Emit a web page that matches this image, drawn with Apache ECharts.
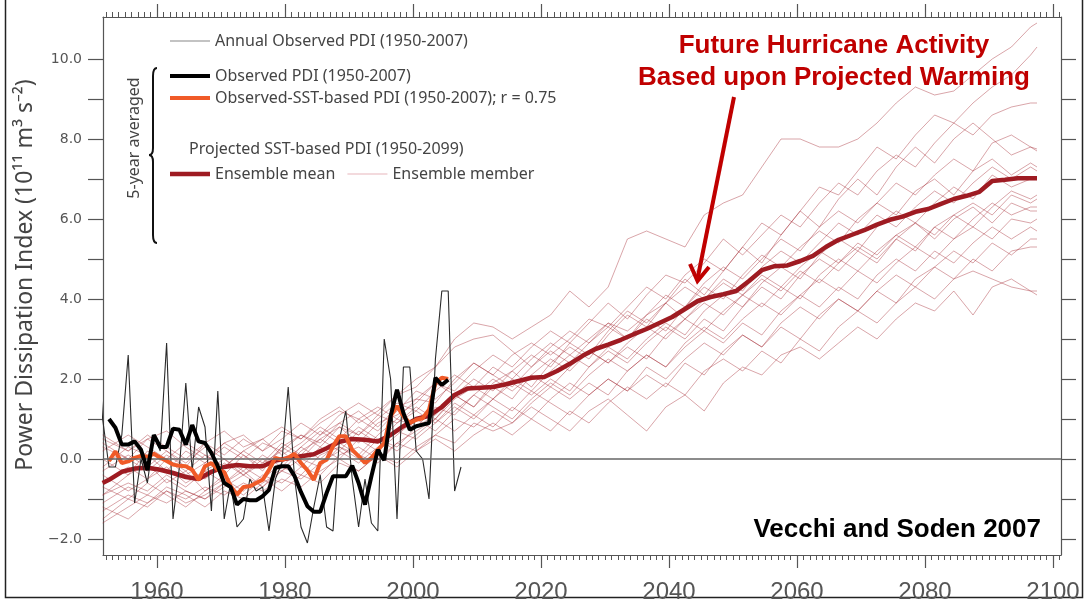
<!DOCTYPE html>
<html>
<head>
<meta charset="utf-8">
<script src="https://cdn.jsdelivr.net/npm/echarts@6/dist/echarts.min.js"></script>
<style>
html, body { margin: 0; padding: 0; background: #fff; }
#chart { width: 1085px; height: 599px; }
</style>
</head>
<body>
<div id="chart"></div>
<script>
// ---- Observed hurricane Power Dissipation Index (10^11 m^3 s^-2) ----
const annualStart = 1950;   // annual observed PDI, 1950-2007
const annualPDI = [
  3.5, 1.0, -0.2, -0.2, 0.6, 2.6, -1.1, 0.0, -0.6, 0.6,
  0.2, 2.9, -1.5, -0.2, 1.9, -0.3, 1.3, 0.8, -1.3, 1.7,
  -1.5, -0.6, -1.7, -1.5, -0.5, -0.8, -0.7, -1.8, -0.5, -0.1,
  1.8, -0.5, -1.7, -2.1, -1.2, -0.4, -1.7, -1.8, 0.5, 1.2,
  -0.5, -1.7, -0.5, -1.6, -1.8, 3.0, 2.0, -1.5, 2.3, 2.3,
  0.2, 0.0, -1.0, 2.5, 4.2, 4.2, -0.8, -0.2
];

const smoothStart = 1952;   // 5-year running means centred 1952-2005
const observedPDI5yr = [
  1.0, 0.78, 0.36, 0.36, 0.44, 0.23, -0.28, 0.6, 0.3, 0.3,
  0.76, 0.73, 0.36, 0.85, 0.44, 0.4, 0.15, -0.18, -0.6, -0.7,
  -1.14, -1.0, -1.03, -1.03, -0.93, -0.77, -0.22, -0.18, -0.18, -0.43,
  -0.83, -1.18, -1.32, -1.32, -0.85, -0.43, -0.43, -0.43, -0.17, -0.6,
  -1.14, -0.43, 0.23, -0.03, 1.07, 1.73, 1.15, 0.73, 0.82, 0.86,
  0.9, 2.03, 1.85, 1.98
];
const sstBasedPDI5yr = [
  -0.05, 0.19, -0.1, -0.06, 0.03, 0.08, 0.05, 0.13, 0.03, -0.05,
  -0.14, -0.17, -0.18, -0.27, -0.52, -0.18, -0.1, -0.27, -0.33, -0.68,
  -0.89, -0.7, -0.68, -0.6, -0.52, -0.27, 0.03, -0.02, 0.03, 0.13,
  -0.1, -0.28, -0.52, -0.1, -0.02, 0.32, 0.57, 0.57, 0.23, 0.07,
  -0.1, 0.03, 0.23, 0.4, 1.07, 1.32, 1.07, 0.9, 0.98, 1.02,
  1.23, 1.9, 2.03, 2.0
];

// ---- Projected SST-based PDI (5-year means) ----
const meanYears = [
  1951, 1952, 1954, 1956, 1958, 1960, 1962, 1964, 1966, 1968, 1970,
  1972, 1974, 1976, 1978, 1980, 1982, 1984, 1986, 1988, 1990,
  1992, 1994, 1996, 1998, 2000, 2002, 2004, 2006, 2008, 2010,
  2012, 2014, 2016, 2018, 2020, 2022, 2024, 2026, 2028, 2030,
  2032, 2034, 2036, 2038, 2040, 2042, 2044, 2046, 2048, 2050,
  2052, 2054, 2056, 2058, 2060, 2062, 2064, 2066, 2068, 2070,
  2072, 2074, 2076, 2078, 2080, 2082, 2084, 2086, 2088, 2090,
  2092, 2094, 2096, 2097
];
const ensembleMean = [
  -0.6, -0.52, -0.32, -0.24, -0.22, -0.27, -0.35, -0.45, -0.5, -0.32, -0.2,
  -0.15, -0.18, -0.18, -0.04, 0.02, 0.07, 0.12, 0.27, 0.43, 0.5,
  0.48, 0.44, 0.6, 0.82, 1.0, 1.08, 1.3, 1.6, 1.76, 1.78,
  1.8, 1.87, 1.95, 2.03, 2.05, 2.2, 2.38, 2.58, 2.75, 2.86,
  2.98, 3.12, 3.25, 3.4, 3.55, 3.75, 3.95, 4.05, 4.12, 4.2,
  4.45, 4.72, 4.82, 4.84, 4.95, 5.08, 5.3, 5.48, 5.6, 5.72,
  5.86, 5.98, 6.06, 6.18, 6.25, 6.38, 6.5, 6.58, 6.68, 6.95,
  6.98, 7.02, 7.02, 7.02
];

const memberYears = [
  1951, 1955, 1958, 1961, 1964, 1967, 1970, 1973, 1976, 1979,
  1982, 1985, 1988, 1991, 1994, 1997, 2000, 2003, 2006, 2009,
  2012, 2015, 2018, 2021, 2024, 2027, 2030, 2033, 2036, 2039,
  2042, 2045, 2048, 2051, 2054, 2057, 2060, 2063, 2066, 2069,
  2072, 2075, 2078, 2081, 2084, 2087, 2090, 2093, 2096, 2097
];
const ensembleMembers = [
  [0.3,0.0,0.5,0.2,-0.2,0.4,0.1,0.5,0.2,0.7, 0.5,1.0,1.3,0.9,1.2,1.6,1.8,2.3,3.0,3.4, 3.3,3.0,3.3,3.6,4.2,3.8,4.3,5.5,5.7,5.5, 5.3,6.1,6.4,6.6,7.3,8.0,8.0,7.8,7.8,8.0, 8.4,8.9,9.3,9.1,9.2,9.6,10.0,10.3,10.8,10.9],
  [-0.6,-0.2,-0.5,0.0,-0.4,-0.1,0.3,0.0,0.4,0.2, 0.6,0.4,0.9,1.2,0.8,1.3,1.5,1.4,2.0,2.4, 2.1,2.6,2.9,2.6,3.0,3.5,3.3,3.8,4.3,4.0, 4.6,5.0,4.7,5.3,5.9,5.6,6.2,6.8,6.6,7.2, 7.8,7.5,8.1,8.6,8.4,8.9,9.3,9.6,10.1,10.3],
  [-0.9,-0.4,-0.1,-0.6,-0.3,-0.8,-0.4,0.1,-0.3,0.3, 0.0,0.5,0.8,0.4,0.9,1.1,1.4,1.9,1.7,2.2, 2.6,2.3,2.8,3.2,2.9,3.4,3.9,3.5,4.1,4.6, 4.4,4.9,5.5,5.1,5.6,6.1,5.8,6.4,6.9,6.6, 7.2,7.6,7.3,7.9,8.4,8.1,8.6,8.8,8.9,8.9],
  [-0.2,0.3,0.1,-0.3,0.2,-0.1,0.4,0.1,-0.2,0.3, 0.6,0.3,0.8,0.6,1.0,1.4,1.2,1.7,2.1,1.8, 2.3,2.0,2.5,2.9,2.6,3.0,3.4,3.2,3.6,4.1, 3.8,4.4,4.8,4.5,5.0,5.5,5.2,5.8,6.2,5.9, 6.4,6.9,6.6,7.1,7.5,7.2,7.9,8.1,7.8,7.75],
  [-1.1,-0.7,-0.9,-0.5,-0.8,-1.0,-0.6,-0.3,-0.7,-0.2, -0.4,0.1,0.3,0.0,0.5,0.3,0.8,1.1,1.6,1.3, 1.9,2.2,1.8,2.4,2.8,2.5,3.1,3.6,3.3,3.9, 4.5,4.1,4.7,5.3,4.9,5.6,6.2,5.8,6.5,7.0, 6.6,7.3,7.8,7.4,8.0,8.4,8.0,7.6,7.8,7.7],
  [0.5,0.2,0.6,0.3,0.0,0.4,0.7,0.3,0.5,0.8, 0.5,0.9,1.2,1.0,0.7,1.2,1.7,1.5,1.9,2.4, 2.1,1.8,2.3,2.7,2.4,2.9,3.3,3.0,3.5,3.2, 3.8,4.3,4.0,4.6,5.1,4.8,5.3,5.7,5.4,6.0, 6.4,6.1,6.7,7.0,6.6,7.2,7.5,7.1,7.4,7.3],
  [-0.7,-1.0,-0.6,-0.9,-1.2,-0.8,-0.5,-0.8,-0.4,-0.6, -0.2,-0.4,0.1,0.3,0.0,0.4,0.7,1.0,1.5,1.8, 1.5,2.0,1.7,2.2,2.6,2.3,2.8,2.5,3.0,3.4, 3.1,3.7,4.1,3.8,4.4,4.8,4.5,5.1,5.5,5.2, 5.8,6.2,5.9,6.4,6.8,6.5,7.1,6.8,7.0,7.0],
  [0.0,-0.4,0.2,0.0,-0.3,0.1,-0.2,0.2,-0.1,0.4, 0.1,0.6,0.9,0.6,1.1,0.9,1.3,1.0,1.6,2.0, 1.7,2.2,2.6,2.3,2.9,2.6,3.2,3.7,3.4,3.9, 4.3,4.0,4.5,4.2,4.8,5.2,4.9,5.4,5.9,5.6, 6.1,5.8,6.3,6.7,6.4,6.9,7.3,7.0,7.3,7.2],
  [-1.3,-0.9,-1.1,-0.7,-0.9,-1.2,-0.8,-1.0,-0.6,-0.3, -0.5,-0.1,0.2,-0.1,0.3,0.7,0.5,0.9,1.3,1.0, 1.5,1.9,1.6,2.0,1.7,2.3,2.7,2.4,2.9,3.3, 3.0,3.5,3.2,3.8,4.3,4.0,4.6,5.0,4.7,5.2, 4.9,5.5,5.9,5.6,6.1,6.4,6.1,6.6,6.4,6.5],
  [0.2,0.6,0.3,0.0,0.4,0.1,-0.2,0.2,0.5,0.1, 0.4,0.8,0.5,1.0,1.3,1.0,1.5,1.9,1.6,1.3, 1.8,1.5,2.1,1.8,2.3,2.7,2.4,2.8,2.5,3.1, 3.5,3.2,3.7,4.1,3.8,4.3,4.0,4.6,5.0,4.7, 5.2,5.6,5.3,5.8,5.5,6.0,6.4,6.1,6.3,6.3],
  [-0.4,-0.8,-0.5,-0.2,-0.6,-0.3,0.0,-0.4,-0.1,0.2, -0.2,0.3,0.0,0.5,0.2,0.6,1.0,0.7,1.2,1.6, 1.3,1.0,1.5,1.9,1.6,2.1,2.5,2.2,2.6,2.3, 2.9,3.3,3.0,3.5,3.9,3.6,4.1,4.5,4.2,4.7, 4.4,4.9,5.3,5.0,5.5,5.8,5.5,6.0,5.9,6.0],
  [-1.6,-1.2,-0.9,-1.1,-0.8,-1.0,-0.7,-0.4,-0.7,-0.3, 0.0,-0.2,0.3,0.1,-0.1,0.4,0.2,0.6,1.0,0.8, 1.2,0.9,1.4,1.8,1.5,1.9,1.6,2.2,2.6,2.3, 2.8,3.2,2.9,3.4,3.1,3.7,4.1,3.8,4.3,4.0, 4.6,5.0,4.7,5.2,4.9,5.4,5.8,5.5,5.8,5.7],
  [0.4,0.0,-0.3,0.1,-0.2,-0.5,-0.1,-0.4,0.0,-0.3, 0.2,0.5,0.2,0.7,0.4,0.9,1.2,0.9,1.4,1.1, 0.8,1.3,1.0,1.5,1.9,1.6,2.0,1.7,2.3,2.0, 2.5,2.9,2.6,3.1,2.8,3.4,3.8,3.5,4.0,3.7, 4.2,4.6,4.3,4.8,5.2,4.9,5.4,5.1,5.5,5.5],
  [-0.9,-0.6,-0.8,-0.4,-0.7,-0.3,-0.6,-0.2,-0.5,-0.1, 0.3,0.0,0.4,0.8,0.5,0.2,0.6,1.0,0.7,1.1, 1.5,1.2,1.7,1.4,1.1,1.6,2.0,1.7,2.1,1.8, 2.4,2.1,2.7,3.1,2.8,3.3,3.0,3.6,4.0,3.7, 4.2,3.9,4.5,4.8,4.5,5.0,4.7,5.2,5.3,5.3],
  [-1.2,-1.5,-1.1,-0.8,-1.0,-0.7,-0.9,-0.6,-0.8,-0.5, -0.7,-0.3,0.0,-0.3,0.1,-0.2,0.2,0.5,0.2,0.6, 0.9,0.6,1.0,0.7,1.2,0.9,1.4,1.8,1.5,1.9, 1.6,2.2,2.5,2.2,2.7,2.4,3.0,2.7,3.3,3.7, 3.4,3.9,4.3,4.0,4.5,4.7,4.5,4.3,4.2,4.2],
  [-1.5,-1.0,-1.2,-0.8,-1.1,-0.9,-0.6,-0.9,-0.5,-0.8, -0.4,-0.6,-0.1,-0.3,0.1,-0.1,0.3,0.6,0.4,0.9, 0.7,0.9,1.3,1.0,0.7,1.2,1.5,1.1,0.7,1.3, 1.6,1.2,1.9,2.3,2.1,2.6,2.8,2.5,2.9,3.3, 3.0,3.5,3.9,3.7,4.2,3.6,4.3,4.5,4.2,4.1],
  [-0.3,0.1,-0.2,0.2,-0.1,0.3,0.0,-0.3,0.1,-0.2, 0.3,0.7,0.4,0.1,0.6,1.0,0.8,1.3,1.1,1.6, 2.0,1.7,2.1,2.5,2.2,2.7,2.4,2.9,3.3,3.0, 3.5,3.9,3.6,4.1,4.5,4.2,4.7,4.4,4.9,5.3, 5.0,5.5,5.2,5.8,6.1,5.8,6.3,6.7,6.5,6.6],
  [0.6,0.2,0.5,0.7,0.3,0.0,0.4,0.6,0.2,0.5, 0.9,0.6,1.1,1.4,1.1,1.6,2.0,2.3,2.8,3.0, 3.1,2.7,2.3,2.8,3.2,2.9,3.4,3.0,3.6,3.9, 3.5,4.0,4.4,4.1,4.6,4.3,4.8,5.2,4.9,5.4, 5.1,5.6,5.9,5.5,6.0,6.3,5.9,6.4,6.2,6.2]
];

// ---- Axes ----
const X_MIN = 1951.56, X_MAX = 2101.25;
const Y_MIN = -2.4, Y_MAX = 11.05;
const yearTicks = [];            // one minor tick per year
for (let y = 1952; y <= 2101; y++) yearTicks.push(y);
const decadeTicks = [1960, 1980, 2000, 2020, 2040, 2060, 2080, 2100];
const yTicks = [-2, -1, 0, 1, 2, 3, 4, 5, 6, 7, 8, 9, 10];
const yLabels = [-2, 0, 2, 4, 6, 8, 10];

const MID_YEAR = 0.5;   // annual values sit at mid-year
const toPoints = (startYear, values) => values.map((v, i) => [startYear + i + MID_YEAR, v]);
const toPairs = (years, values) => values.map((v, i) => [years[i] + MID_YEAR, v]);

const UI_FONT = '"Noto Sans", "Open Sans", sans-serif';
const AXIS_COLOR = '#555';
const RED = '#C00000';
const MEMBER_COLOR = 'rgba(160, 32, 42, 0.45)';

// legend swatches: flat bars of a given thickness
const bar = h => 'path://M0,0H40V' + h + 'H0Z';

const chart = echarts.init(document.getElementById('chart'), null, { renderer: 'canvas' });

const xBase = {
  type: 'value', min: X_MIN, max: X_MAX, gridIndex: 0,
  splitLine: { show: false }
};
const minorX = (position) => Object.assign({}, xBase, {
  position,
  axisLine: { show: true, onZero: false, lineStyle: { color: AXIS_COLOR, width: 1.2 } },
  axisTick: { show: true, customValues: yearTicks, length: 5, lineStyle: { color: AXIS_COLOR, width: 1 } },
  axisLabel: { show: false }
});
const majorX = (position, labels) => Object.assign({}, xBase, {
  position,
  axisLine: { show: false, onZero: false },
  axisTick: { show: true, customValues: decadeTicks, length: 13, lineStyle: { color: AXIS_COLOR, width: 1.2 } },
  axisLabel: labels ? {
    show: true, customValues: decadeTicks, margin: 25,
    fontSize: 24, color: '#555', fontFamily: '"Liberation Sans", Arial, sans-serif',
    formatter: v => String(v)
  } : { show: false }
});
const yAxisOf = (position, withLabels) => ({
  type: 'value', position, min: Y_MIN, max: Y_MAX,
  splitLine: { show: false },
  axisLine: { show: true, onZero: false, lineStyle: { color: AXIS_COLOR, width: 1.2 } },
  axisTick: { show: true, customValues: yTicks, length: 15, lineStyle: { color: AXIS_COLOR, width: 1.2 } },
  axisLabel: withLabels ? {
    show: true, customValues: yLabels, margin: 21,
    fontSize: 14, color: '#555', fontFamily: '"DejaVu Sans", sans-serif',
    formatter: v => (v < 0 ? '\u2212' : '') + Math.abs(v).toFixed(1)
  } : { show: false },
  name: withLabels ? 'Power Dissipation Index (10\u00b9\u00b9 m\u00b3 s\u207b\u00b2)' : '',
  nameLocation: 'middle', nameGap: 60,
  nameTextStyle: { fontSize: 23, color: '#444', fontFamily: UI_FONT, padding: [0, 0, 0, 22] }
});

const memberSeries = ensembleMembers.map((run, i) => {
  const s = {
    name: 'Ensemble member', type: 'line', z: 1,
    xAxisIndex: 0, yAxisIndex: 0,
    data: toPairs(memberYears, run),
    symbol: 'none', clip: true, silent: true,
    lineStyle: { color: MEMBER_COLOR, width: 0.9 },
    itemStyle: { color: MEMBER_COLOR }
  };
  if (i === 0) {
    s.markLine = {
      silent: true, symbol: 'none', label: { show: false },
      lineStyle: { color: '#666', width: 1.5, type: 'solid' },
      data: [{ yAxis: 0 }]
    };
  }
  return s;
});

const legendText = { fontSize: 16, color: '#444', fontFamily: UI_FONT };

chart.setOption({
  animation: false,
  backgroundColor: '#fff',
  grid: { left: 103, right: 24, top: 17, bottom: 44, containLabel: false, outerBoundsMode: 'none' },
  xAxis: [minorX('bottom'), majorX('bottom', true), minorX('top'), majorX('top', false)],
  yAxis: [yAxisOf('left', true), yAxisOf('right', false)],
  legend: [
    { left: 165, top: 28, itemWidth: 40, itemHeight: 14, itemGap: 6, textStyle: legendText,
      data: [{ name: 'Annual Observed PDI (1950-2007)', icon: bar(1.2), itemStyle: { color: '#888' } }] },
    { left: 165, top: 63, orient: 'vertical', itemGap: 6, itemWidth: 40, itemHeight: 14, textStyle: legendText,
      data: [
        { name: 'Observed PDI (1950-2007)', icon: bar(4) },
        { name: 'Observed-SST-based PDI (1950-2007); r = 0.75', icon: bar(4) }
      ] },
    { left: 165, top: 161, itemGap: 12, itemWidth: 40, itemHeight: 14, textStyle: legendText,
      data: [
        { name: 'Ensemble mean', icon: bar(4.5) },
        { name: 'Ensemble member', icon: bar(1.2), itemStyle: { color: 'rgba(210, 110, 120, 0.5)' } }
      ] }
  ],
  series: memberSeries.concat([
    {
      name: 'Ensemble mean', type: 'line', z: 2,
      data: toPairs(meanYears, ensembleMean),
      symbol: 'none', clip: true,
      lineStyle: { color: '#9E1B22', width: 4.5 }, itemStyle: { color: '#9E1B22' }
    },
    {
      name: 'Annual Observed PDI (1950-2007)', type: 'line', z: 3,
      data: toPoints(annualStart, annualPDI),
      symbol: 'none', clip: true,
      lineStyle: { color: '#2a2a2a', width: 1.1 }, itemStyle: { color: '#2a2a2a' }
    },
    {
      name: 'Observed-SST-based PDI (1950-2007); r = 0.75', type: 'line', z: 4,
      data: toPoints(smoothStart, sstBasedPDI5yr),
      symbol: 'none', clip: true,
      lineStyle: { color: '#F05A28', width: 4 }, itemStyle: { color: '#F05A28' }
    },
    {
      name: 'Observed PDI (1950-2007)', type: 'line', z: 5,
      data: toPoints(smoothStart, observedPDI5yr),
      symbol: 'none', clip: true,
      lineStyle: { color: '#000', width: 4 }, itemStyle: { color: '#000' }
    }
  ]),
  graphic: [
    // picture frame
    { type: 'polyline', silent: true, shape: { points: [[5.5, 0], [5.5, 597.5], [1082.5, 597.5], [1082.5, 0]] },
      style: { stroke: '#222', lineWidth: 1.5, fill: null } },
    // 5-year averaged bracket
    { type: 'bezierCurve', silent: true, shape: { x1: 157, y1: 68, cpx1: 153, cpy1: 68, x2: 153, y2: 76 },
      style: { stroke: '#111', lineWidth: 2, fill: null } },
    { type: 'line', silent: true, shape: { x1: 153, y1: 76, x2: 153, y2: 148 },
      style: { stroke: '#111', lineWidth: 2 } },
    { type: 'bezierCurve', silent: true, shape: { x1: 153, y1: 148, cpx1: 153, cpy1: 155, x2: 149, y2: 155 },
      style: { stroke: '#111', lineWidth: 2, fill: null } },
    { type: 'bezierCurve', silent: true, shape: { x1: 149, y1: 155, cpx1: 153, cpy1: 155, x2: 153, y2: 162 },
      style: { stroke: '#111', lineWidth: 2, fill: null } },
    { type: 'line', silent: true, shape: { x1: 153, y1: 162, x2: 153, y2: 235 },
      style: { stroke: '#111', lineWidth: 2 } },
    { type: 'bezierCurve', silent: true, shape: { x1: 153, y1: 235, cpx1: 153, cpy1: 243, x2: 157, y2: 243 },
      style: { stroke: '#111', lineWidth: 2, fill: null } },
    { type: 'text', silent: true, x: 134, y: 138, rotation: Math.PI / 2,
      style: { text: '5-year averaged', fontSize: 16, fontFamily: UI_FONT, fill: '#444',
               align: 'center', verticalAlign: 'middle' } },
    { type: 'text', silent: true, x: 189, y: 149,
      style: { text: 'Projected SST-based PDI (1950-2099)', fontSize: 16, fontFamily: UI_FONT, fill: '#444',
               align: 'left', verticalAlign: 'middle' } },
    // headline and arrow
    { type: 'text', silent: true, x: 834, y: 62,
      style: { text: 'Future Hurricane Activity\nBased upon Projected Warming', lineHeight: 32,
               font: 'bold 26px "Liberation Sans", Arial, sans-serif', fill: RED,
               align: 'center', verticalAlign: 'middle' } },
    { type: 'polyline', silent: true, shape: { points: [[734, 97], [697.5, 279]] },
      style: { stroke: RED, lineWidth: 4, fill: null } },
    { type: 'polyline', silent: true, shape: { points: [[690, 264], [697.5, 281], [709, 267]] },
      style: { stroke: RED, lineWidth: 4, fill: null } },
    { type: 'text', silent: true, x: 1041, y: 530,
      style: { text: 'Vecchi and Soden 2007', font: 'bold 26px "Liberation Sans", Arial, sans-serif',
               fill: '#000', align: 'right', verticalAlign: 'middle' } }
  ]
});
</script>
</body>
</html>
